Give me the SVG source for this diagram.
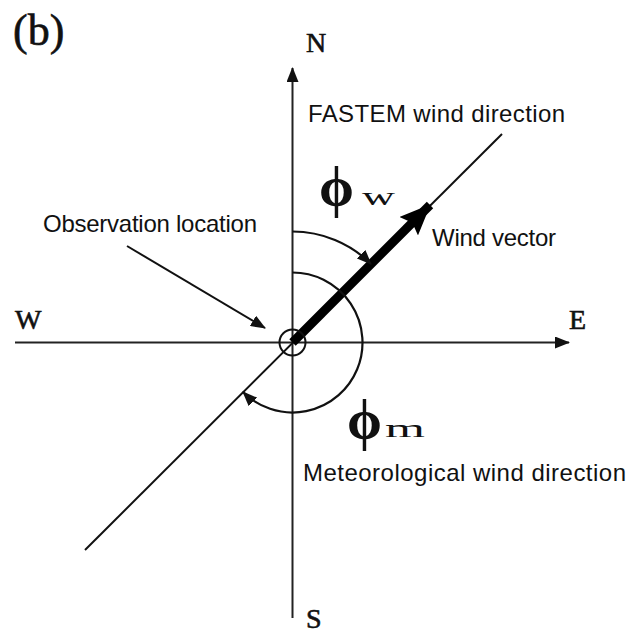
<svg xmlns="http://www.w3.org/2000/svg" width="628" height="636" viewBox="0 0 628 636">
<style>
.ax{stroke:#222;stroke-width:2;fill:none}
.thin{stroke:#111;stroke-width:2;fill:none}
.arc{stroke:#111;stroke-width:2.2;fill:none}
.sans{font-family:"Liberation Sans",Arial,sans-serif;font-size:24px;fill:#111}
.serif{font-family:"Liberation Serif","Times New Roman",serif;fill:#111}
.cap{font-size:28px;stroke:#111;stroke-width:0.6}
</style>
<defs>
<marker id="ah" markerUnits="userSpaceOnUse" markerWidth="16" markerHeight="12" refX="14" refY="6" orient="auto">
<path d="M0,0 L15,6 L0,12 Z" fill="#111"/>
</marker>
<marker id="big" markerUnits="userSpaceOnUse" markerWidth="32" markerHeight="26" refX="30" refY="13" orient="auto">
<path d="M0,0 L31,13 L0,26 L5,13 Z" fill="#000"/>
</marker>
</defs>
<rect width="628" height="636" fill="#fff"/>
<g id="connectors">
<line class="ax" x1="292.5" y1="618" x2="292.5" y2="68" marker-end="url(#ah)"/>
<line class="ax" x1="15" y1="342.5" x2="569" y2="342.5" marker-end="url(#ah)"/>
<line class="thin" x1="85" y1="550" x2="502" y2="134"/>
<line x1="292.5" y1="342.5" x2="430" y2="205" stroke="#000" stroke-width="9" marker-end="url(#big)"/>
<path class="arc" d="M292.5,231.5 A111,111 0 0 1 371,264" marker-end="url(#ah)"/>
<path class="arc" d="M292.5,272.5 A70,70 0 1 1 243,392" marker-end="url(#ah)"/>
<line class="thin" x1="127" y1="246" x2="265" y2="328" marker-end="url(#ah)"/>
</g>
<g id="origin"><circle cx="292.5" cy="342.5" r="13" fill="none" stroke="#111" stroke-width="2"/></g>
<g id="label-b"><text class="serif" x="13" y="45" font-size="44" stroke="#111" stroke-width="0.6">(b)</text></g>
<g id="label-N"><text class="serif cap" x="306" y="52">N</text></g>
<g id="label-S"><text class="serif cap" x="306" y="628">S</text></g>
<g id="label-W"><text class="serif cap" x="15" y="329">W</text></g>
<g id="label-E"><text class="serif cap" x="569" y="329">E</text></g>
<g id="fastem"><text class="sans" x="308" y="122" textLength="257">FASTEM wind direction</text></g>
<g id="obs"><text class="sans" x="43" y="232" textLength="214">Observation location</text></g>
<g id="windvec"><text class="sans" x="432" y="246" textLength="124">Wind vector</text></g>
<g id="met"><text class="sans" x="303" y="481" textLength="323">Meteorological wind direction</text></g>
<g id="phiw"><text class="serif" x="319" y="206" font-size="56" font-weight="bold">ϕ</text><text class="serif" x="362" y="205" font-size="26" textLength="33" lengthAdjust="spacingAndGlyphs">w</text></g>
<g id="phim"><text class="serif" x="347" y="439" font-size="56" font-weight="bold">ϕ</text><text class="serif" x="385" y="437" font-size="26" textLength="40" lengthAdjust="spacingAndGlyphs">m</text></g>
</svg>
